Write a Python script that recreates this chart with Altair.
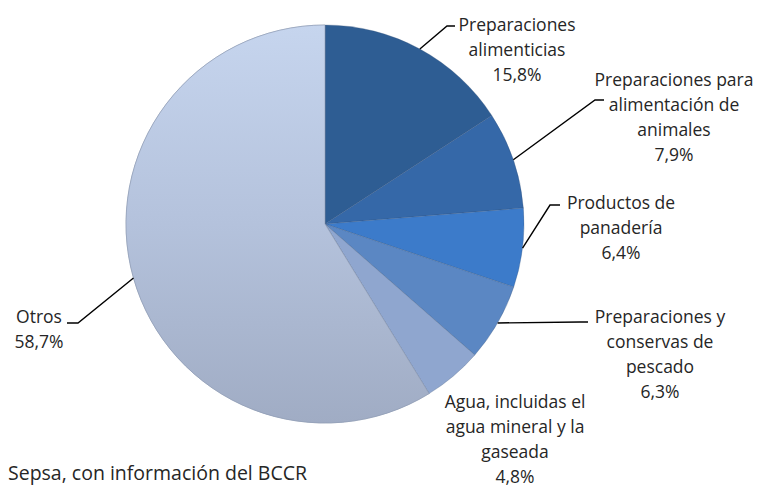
import math
import altair as alt
import pandas as pd

# ---------------- data ----------------
categories = [
    "Preparaciones alimenticias",
    "Preparaciones para alimentación de animales",
    "Productos de panadería",
    "Preparaciones y conservas de pescado",
    "Agua, incluidas el agua mineral y la gaseada",
    "Otros",
]
shares = [15.8, 7.9, 6.4, 6.3, 4.8, 58.7]
share_labels = ["15,8%", "7,9%", "6,4%", "6,3%", "4,8%", "58,7%"]
name_lines = [
    ["Preparaciones", "alimenticias"],
    ["Preparaciones para", "alimentación de", "animales"],
    ["Productos de", "panadería"],
    ["Preparaciones y", "conservas de", "pescado"],
    ["Agua, incluidas el", "agua mineral y la", "gaseada"],
    ["Otros"],
]
source_text = "Sepsa, con información del BCCR"

# ---------------- styles / layout ----------------
colors = ["#2E5D93", "#3568A8", "#3C7BCA", "#5B87C3", "#8FA6CF", "#B9C8E2"]
W, H = 746, 479
CX, CY, R = 317, 216, 199
FONT = "Open Sans"
FS = 17.5
FS_SRC = 19.5
LH = 25
TEXT_COLOR = "#262626"

# label block: (center x, first line y) and leader (elbow, end) in chart px
label_pos = [(509, 18), (666, 73), (613, 196), (652, 310), (507, 395), (31, 310)]
leader_pts = [
    [(439, 18), (447, 18)],
    [(587, 92), (596, 92)],
    [(542, 197), (552, 197)],
    [(572, 314), (580, 314)],
    None,
    [(70, 315), (59, 315)],
]

df = pd.DataFrame({"cat": categories, "share": shares, "order": list(range(len(shares)))})

# text rows
rows = []
for i, (cat, lines, pct) in enumerate(zip(categories, name_lines, share_labels)):
    x0, y0 = label_pos[i]
    for j, t in enumerate(lines + [pct]):
        rows.append({"cat": cat, "t": t, "px": x0, "py": y0 + j * LH})
text_df = pd.DataFrame(rows)

# leader lines: start at edge point at slice mid-angle
total = sum(shares)
lrows = []
cum = 0.0
for i, s in enumerate(shares):
    mid = (cum + s / 2) / total * 2 * math.pi
    cum += s
    if leader_pts[i] is None:
        continue
    ex = CX + R * math.sin(mid)
    ey = CY - R * math.cos(mid)
    pts = [(ex, ey)] + leader_pts[i]
    for k, (px, py) in enumerate(pts):
        lrows.append({"cat": categories[i], "k": k, "px": px, "py": py})
lead_df = pd.DataFrame(lrows)

base_arc = alt.Chart(df).encode(
    theta=alt.Theta("share:Q", stack=True),
    order=alt.Order("order:Q"),
    x=alt.value(CX),
    y=alt.value(CY),
)

pie = base_arc.mark_arc(outerRadius=R, stroke="#3a5478", strokeWidth=0.6, strokeOpacity=0.5).encode(
    color=alt.Color("cat:N", scale=alt.Scale(domain=categories, range=colors), legend=None),
)

otros_grad = base_arc.mark_arc(
    outerRadius=R,
    fill=alt.Gradient(
        gradient="linear",
        stops=[
            alt.GradientStop(color="#C6D5EE", offset=0),
            alt.GradientStop(color="#B4C2DC", offset=0.5),
            alt.GradientStop(color="#A0ACC4", offset=1),
        ],
        x1=0, x2=0, y1=0, y2=1,
    ),
    stroke="#8e9ab2",
    strokeWidth=0.6,
).encode(
    opacity=alt.condition("datum.cat == 'Otros'", alt.value(1), alt.value(0)),
)

leaders = alt.Chart(lead_df).mark_line(color="#000000", strokeWidth=1.4).encode(
    x=alt.X("px:Q", scale=None, axis=None),
    y=alt.Y("py:Q", scale=None, axis=None),
    detail="cat:N",
    order="k:Q",
)

labels = alt.Chart(text_df).mark_text(
    font=FONT, fontSize=FS, color=TEXT_COLOR, align="center", baseline="middle"
).encode(
    x=alt.X("px:Q", scale=None, axis=None),
    y=alt.Y("py:Q", scale=None, axis=None),
    text="t:N",
)

source = alt.Chart(pd.DataFrame({"t": [source_text], "px": [0], "py": [466]})).mark_text(
    font=FONT, fontSize=FS_SRC, color=TEXT_COLOR, align="left", baseline="middle"
).encode(
    x=alt.X("px:Q", scale=None, axis=None),
    y=alt.Y("py:Q", scale=None, axis=None),
    text="t:N",
)

chart = alt.layer(pie, otros_grad, leaders, labels, source).properties(
    width=W, height=H, padding=0, autosize=alt.AutoSizeParams(type="none")
).configure_view(stroke=None)

chart.save("out.html", embed_options={"renderer": "svg", "actions": False})
